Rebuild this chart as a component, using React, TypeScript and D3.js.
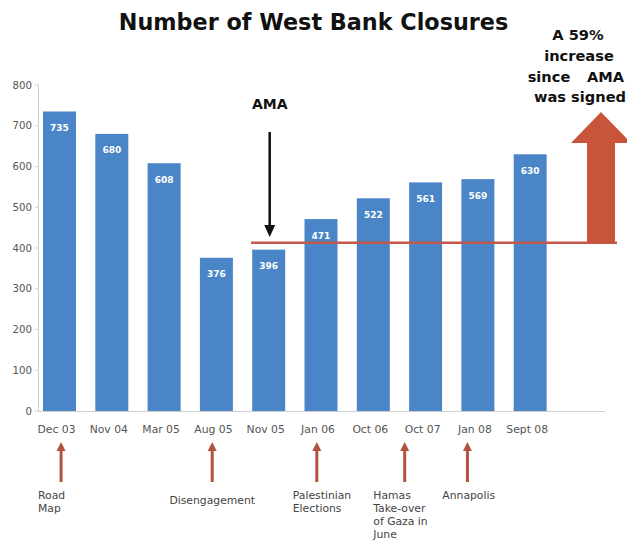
import React from "react";
import * as d3 from "d3";

const categories = ["Dec 03", "Nov 04", "Mar 05", "Aug 05", "Nov 05", "Jan 06", "Oct 06", "Oct 07", "Jan 08", "Sept 08"];
const closures = [735, 680, 608, 376, 396, 471, 522, 561, 569, 630];
const yTicks = [0, 100, 200, 300, 400, 500, 600, 700, 800];
const amaLevel = 413;
const events = [
  { at: 0.03, lines: ["Road", "Map"], anchor: "start", tx: -0.44 },
  { at: 2.92, lines: ["Disengagement"], anchor: "middle", tx: 0 },
  { at: 4.92, lines: ["Palestinian", "Elections"], anchor: "start", tx: -0.46 },
  { at: 6.6, lines: ["Hamas", "Take-over", "of Gaza in", "June"], anchor: "start", tx: -0.6 },
  { at: 7.8, lines: ["Annapolis"], anchor: "start", tx: -0.48 },
];

const W = 627;
const H = 543;
const BLUE = "#4a86c7";
const RED = "#c8553b";

export default function App() {
  const x = d3
    .scaleBand<string>()
    .domain(categories)
    .range([38, 551.7])
    .paddingInner(0.369)
    .paddingOuter(0.0956);
  const y = d3.scaleLinear().domain([0, 800]).range([411, 85]);
  const step = x.step();
  const c0 = (x(categories[0]) as number) + x.bandwidth() / 2;
  const xi = d3.scaleLinear().domain([0, 1]).range([c0, c0 + step]);

  const amaX = xi(4) + 1;
  const amaY = y(amaLevel);

  // big arrow geometry
  const bx = 601;
  const shaftHalf = 14;
  const headHalf = 30;
  const headBase = 143;
  const tipY = 112;
  const bigArrow = [
    [bx - shaftHalf, amaY],
    [bx - shaftHalf, headBase],
    [bx - headHalf, headBase],
    [bx, tipY],
    [bx + headHalf, headBase],
    [bx + shaftHalf, headBase],
    [bx + shaftHalf, amaY],
  ];
  const line = d3.line();

  const bold = "'DejaVu Sans', Verdana, sans-serif";
  const small = "'DejaVu Sans', Verdana, sans-serif";

  return (
    <svg
      width={W}
      height={H}
      style={{ position: "absolute", left: 0, top: 0, background: "#fff" }}
    >
      <text x={313.5} y={30} textAnchor="middle" fontFamily={bold} fontWeight="bold" fontSize={22.3} fill="#111">
        Number of West Bank Closures
      </text>

      {/* y axis */}
      <line x1={38.5} x2={38.5} y1={y(800)} y2={y(0)} stroke="#cfcfcf" strokeWidth={1} />
      {yTicks.map((t) => (
        <g key={t}>
          <line x1={35} x2={38.5} y1={y(t)} y2={y(t)} stroke="#cfcfcf" />
          <text x={32} y={y(t)} dy="0.35em" textAnchor="end" fontFamily={small} fontSize={10.2} fill="#555">
            {t}
          </text>
        </g>
      ))}

      {/* bars */}
      {categories.map((c, i) => (
        <g key={c}>
          <rect x={x(c)} y={y(closures[i])} width={x.bandwidth()} height={y(0) - y(closures[i])} fill={BLUE} />
          <text
            x={(x(c) as number) + x.bandwidth() / 2}
            y={y(closures[i]) + 19.5}
            textAnchor="middle"
            fontFamily={bold}
            fontWeight="bold"
            fontSize={9}
            fill="#fff"
          >
            {closures[i]}
          </text>
          <text
            x={(x(c) as number) + x.bandwidth() / 2 - 3}
            y={433}
            textAnchor="middle"
            fontFamily={small}
            fontSize={10.8}
            fill="#555"
          >
            {c}
          </text>
        </g>
      ))}

      {/* x axis line */}
      <line x1={38} x2={605} y1={411.5} y2={411.5} stroke="#cfcfcf" strokeWidth={1} />

      {/* AMA level line */}
      <line x1={251} x2={617} y1={amaY} y2={amaY} stroke="#c4574a" strokeWidth={2.5} />

      {/* AMA label & arrow */}
      <text x={amaX} y={109} textAnchor="middle" fontFamily={bold} fontWeight="bold" fontSize={14} fill="#111">
        AMA
      </text>
      <line x1={amaX} x2={amaX} y1={132} y2={226} stroke="#111" strokeWidth={2.5} />
      <path d={`M${amaX - 5.5},${225} L${amaX + 5.5},${225} L${amaX},${237} Z`} fill="#111" />

      {/* big red arrow */}
      <path d={line(bigArrow as [number, number][]) + "Z"} fill={RED} />
      <g fontFamily={bold} fontWeight="bold" fontSize={14.6} fill="#111">
        <text x={578} y={40} textAnchor="middle">A 59%</text>
        <text x={579} y={61} textAnchor="middle">increase</text>
        <text x={549} y={82} textAnchor="middle">since</text>
        <text x={587} y={82} textAnchor="start">AMA</text>
        <text x={580} y={102} textAnchor="middle">was signed</text>
      </g>

      {/* event arrows */}
      {events.map((e, i) => {
        const ex = xi(e.at);
        const tx = ex + e.tx * step;
        return (
          <g key={i}>
            <line x1={ex} x2={ex} y1={450} y2={482} stroke="#b4533d" strokeWidth={3} />
            <path d={`M${ex - 4.5},${451} L${ex + 4.5},${451} L${ex},${442} Z`} fill="#b4533d" />
            {e.lines.map((l, j) => (
              <text
                key={j}
                x={tx}
                y={e.lines.length === 1 && e.anchor === "middle" ? 504 : 499 + j * 13}
                textAnchor={e.anchor}
                fontFamily={small}
                fontSize={10.8}
                fill="#444"
              >
                {l}
              </text>
            ))}
          </g>
        );
      })}
    </svg>
  );
}
